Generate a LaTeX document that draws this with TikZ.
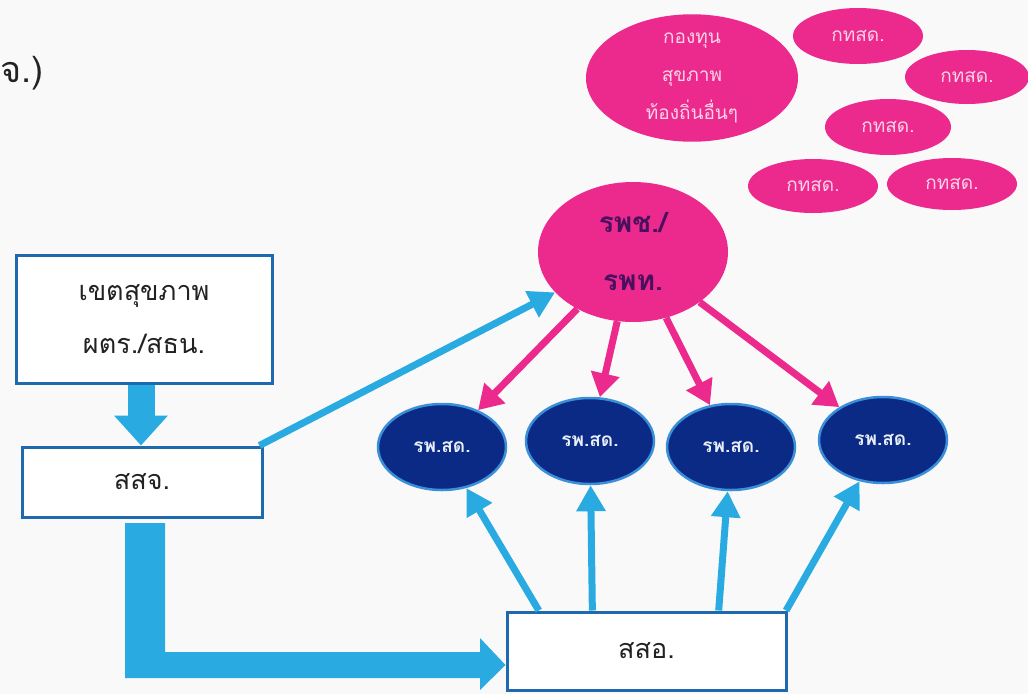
\documentclass[tikz,border=0pt]{standalone}
\usepackage{fontspec}
\newfontfamily\thai[Script=Thai]{Loma}
\usetikzlibrary{shapes.geometric,arrows.meta,calc}
\definecolor{bg}{HTML}{F9F9F9}
\definecolor{pinkc}{HTML}{EC2A8D}
\definecolor{navy}{HTML}{0A2A85}
\definecolor{navyrim}{HTML}{3A8FD8}
\definecolor{lblue}{HTML}{29ABE2}
\definecolor{boxblue}{HTML}{1F6AAE}
\definecolor{textdark}{HTML}{222222}
\definecolor{purpletext}{HTML}{4A1060}
\definecolor{pinktext}{HTML}{FBD3E6}
\definecolor{navytext}{HTML}{E8EEF8}
\begin{document}
\begin{tikzpicture}[x=1pt,y=-1pt,font=\thai,
  box/.style={draw=boxblue,line width=3pt,fill=white,inner sep=0pt,align=center,text=textdark,
    font=\thai\fontsize{27}{53}\selectfont},
  pinkell/.style={ellipse,fill=pinkc,inner sep=0pt,align=center,text=pinktext,
    font=\thai\fontsize{19}{38}\selectfont},
  navyell/.style={ellipse,fill=navy,draw=navyrim,line width=2.5pt,inner sep=0pt,text=navytext,
    minimum width=128pt,minimum height=86pt,font=\thai\bfseries\fontsize{19}{21}\selectfont},
  thinblue/.style={draw=lblue,line width=7pt,-{Triangle[length=26pt,width=28pt]}},
  thinpink/.style={draw=pinkc,line width=7pt,-{Triangle[length=24pt,width=28pt]}},
  bigdown/.style={draw=lblue,line width=27pt,-{Triangle[length=30pt,width=52pt]}}]
\fill[bg] (0,0) rectangle (1028,694);
\useasboundingbox (0,0) rectangle (1028,694);

% partial heading at the left edge
\node[anchor=east,inner sep=0pt,text=textdark,font=\thai\fontsize{36}{40}\selectfont] (head) at (44,73) {จ.)};

% top pink ellipses
\node[pinkell,minimum width=212pt,minimum height=124pt] (fund) at (692,78) {กองทุน\\สุขภาพ\\ท้องถิ่นอื่นๆ};
\node[pinkell,minimum width=130pt,minimum height=56pt] (k1) at (858,36) {กทสด.};
\node[pinkell,minimum width=124pt,minimum height=54pt] (k2) at (967,77) {กทสด.};
\node[pinkell,minimum width=126pt,minimum height=56pt] (k3) at (888,127) {กทสด.};
\node[pinkell,minimum width=130pt,minimum height=54pt] (k4) at (813,186) {กทสด.};
\node[pinkell,minimum width=130pt,minimum height=52pt] (k5) at (952,184) {กทสด.};

% hospital
\node[ellipse,fill=pinkc,inner sep=0pt,minimum width=190pt,minimum height=140pt,align=center,
  text=purpletext,font=\thai\bfseries\fontsize{28}{58}\selectfont] (rpc) at (633,252) {รพช./\\รพท.};

% sub-district hospitals
\node[navyell] (r1) at (442,447) {รพ.สด.};
\node[navyell] (r2) at (590,441) {รพ.สด.};
\node[navyell] (r3) at (731,447) {รพ.สด.};
\node[navyell] (r4) at (883,440) {รพ.สด.};

% boxes
\node[box,minimum width=256pt,minimum height=128pt] (zone) at (144,319) {เขตสุขภาพ\\ผตร./สธน.};
\node[box,minimum width=240pt,minimum height=70pt] (ssj) at (142,482) {สสจ.};
\node[box,minimum width=279pt,minimum height=78pt] (sso) at (646.5,651) {สสอ.};

% thick arrows
\draw[bigdown] (zone.south -| 141,0) -- (ssj.north -| 141,0);
\coordinate (Ltip) at ($(sso.west)+(0,14)$);
\fill[lblue] (125,523) -- (165,523) -- (165,652) -- (480,652) -- (480,638)
  -- (Ltip) -- (480,690) -- (480,678) -- (125,678) -- cycle;

% blue line from สสจ. to รพช./รพท.
\draw[thinblue] ($(ssj.north east)+(-4,0)$) -- (rpc);

% pink arrows
\foreach \r in {r1,r2,r3,r4}{\draw[thinpink] (rpc) -- (\r);}

% blue arrows from สสอ.
\coordinate (b1) at ($(sso.north west)!0.118!(sso.north east)$);
\coordinate (b2) at ($(sso.north west)!0.308!(sso.north east)$);
\coordinate (b3) at ($(sso.north west)!0.756!(sso.north east)$);
\coordinate (b4) at ($(sso.north west)!0.995!(sso.north east)$);
\draw[thinblue] (b1) -- (r1);
\draw[thinblue] (b2) -- (r2);
\draw[thinblue] (b3) -- (r3);
\draw[thinblue] (b4) -- (r4);
\end{tikzpicture}
\end{document}
